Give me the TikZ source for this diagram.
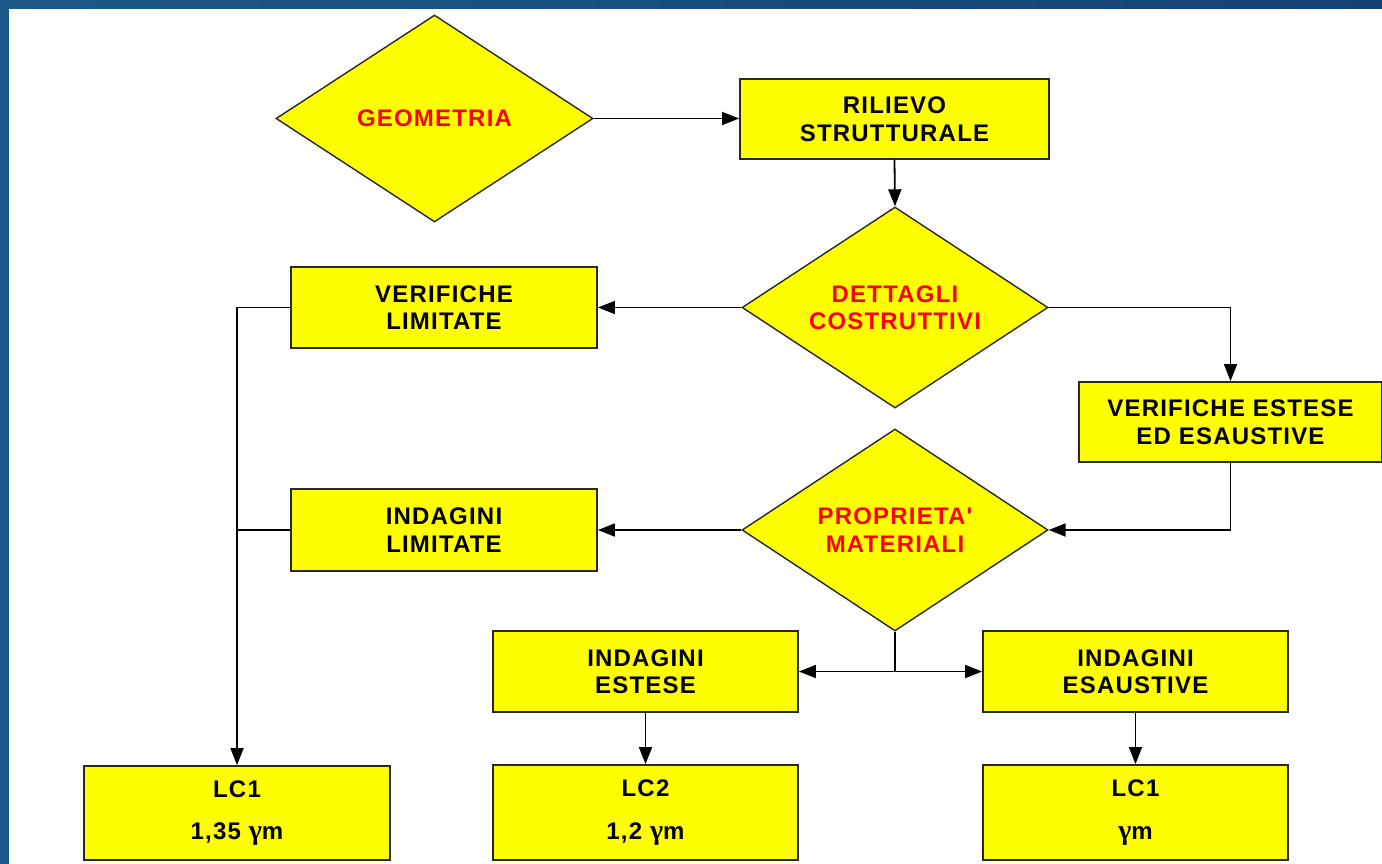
\documentclass[tikz,border=0pt]{standalone}
\usepackage{fontspec}
\setmainfont{Liberation Sans}
\newfontfamily\dfont[LetterSpace=5]{Liberation Sans}
\newfontfamily\gfont{Liberation Serif}
\usetikzlibrary{shapes.geometric,arrows.meta}
\definecolor{bordA}{RGB}{28,88,138}
\definecolor{bordB}{RGB}{40,118,158}
\definecolor{bordC}{RGB}{20,66,120}
\definecolor{boxyellow}{RGB}{255,255,0}
\definecolor{txtred}{RGB}{255,0,0}
\definecolor{edge}{RGB}{40,40,40}
\newcommand{\gm}{{\gfont\bfseries\fontsize{28}{28}\selectfont γ}m}
\tikzset{
  basefont/.style={font=\dfont\bfseries\fontsize{24}{27.5}\selectfont},
  stepbox/.style={rectangle,draw=edge,line width=1.8pt,fill=boxyellow,inner sep=0pt,align=center,basefont,text=black},
  decision/.style={diamond,draw=edge,line width=1.4pt,fill=boxyellow,inner sep=0pt,aspect=1.52,align=center,basefont,text=txtred},
  conn/.style={draw=black,line width=1.8pt},
  arr/.style={conn,-{Triangle[length=17pt,width=13pt]}}
}
\begin{document}
\begin{tikzpicture}[x=1pt,y=-1pt]
\useasboundingbox (0,0) rectangle (1382,864);
\fill[bordA] (0,0) rectangle (1382,864);
\shade[left color=bordA,middle color=bordB,right color=bordC] (0,0) rectangle (1382,9);
\fill[white] (9,9) rectangle (1382,864);

\node[decision,minimum width=317pt,minimum height=207pt] (geo) at (434.5,118.5) {GEOMETRIA};
\node[stepbox,minimum width=309pt,minimum height=80pt] (ril) at (894.5,119) {RILIEVO\\STRUTTURALE};
\node[decision,minimum width=306pt,minimum height=201pt] (det) at (895,307.5) {DETTAGLI\\COSTRUTTIVI};
\node[stepbox,minimum width=306pt,minimum height=81pt] (vl) at (444,307.5) {VERIFICHE\\LIMITATE};
\node[stepbox,minimum width=303pt,minimum height=80pt] (ves) at (1230.5,422) {VERIFICHE ESTESE\\ED ESAUSTIVE};
\node[decision,minimum width=306pt,minimum height=202pt] (prop) at (895,530) {PROPRIETA'\\MATERIALI};
\node[stepbox,minimum width=306pt,minimum height=82pt] (il) at (444,530) {INDAGINI\\LIMITATE};
\node[stepbox,minimum width=305pt,minimum height=81pt] (ie) at (645.5,671.5) {INDAGINI\\ESTESE};
\node[stepbox,minimum width=305pt,minimum height=81pt] (iex) at (1135.5,671.5) {INDAGINI\\ESAUSTIVE};
\node[stepbox,minimum width=306pt,minimum height=94pt] (lca) at (237,813) {LC1\\[15pt]1,35 \gm};
\node[stepbox,minimum width=305pt,minimum height=95pt] (lcb) at (645.5,812.5) {LC2\\[15pt]1,2 \gm};
\node[stepbox,minimum width=305pt,minimum height=95pt] (lcc) at (1135.5,812.5) {LC1\\[15pt]\gm};

\draw[arr] (geo.east) -- (geo.east -| ril.west);
\draw[arr] (ril.south) -- (det.north);
\draw[arr] (det.west) -- (vl.east);
\draw[arr] (det.east) -| (ves.north);
\draw[arr] (ves.south) |- (prop.east);
\draw[arr] (prop.west) -- (il.east);
\draw[arr] (vl.west) -| (lca.north);
\draw[conn] (il.west) -- (il.west -| lca.north);
\coordinate (split) at (prop.south |- ie.east);
\draw[conn] (prop.south) -- (split);
\draw[arr] (split) -- (ie.east);
\draw[arr] (split) -- (iex.west);
\draw[arr] (ie.south) -- (lcb.north);
\draw[arr] (iex.south) -- (lcc.north);
\end{tikzpicture}
\end{document}
